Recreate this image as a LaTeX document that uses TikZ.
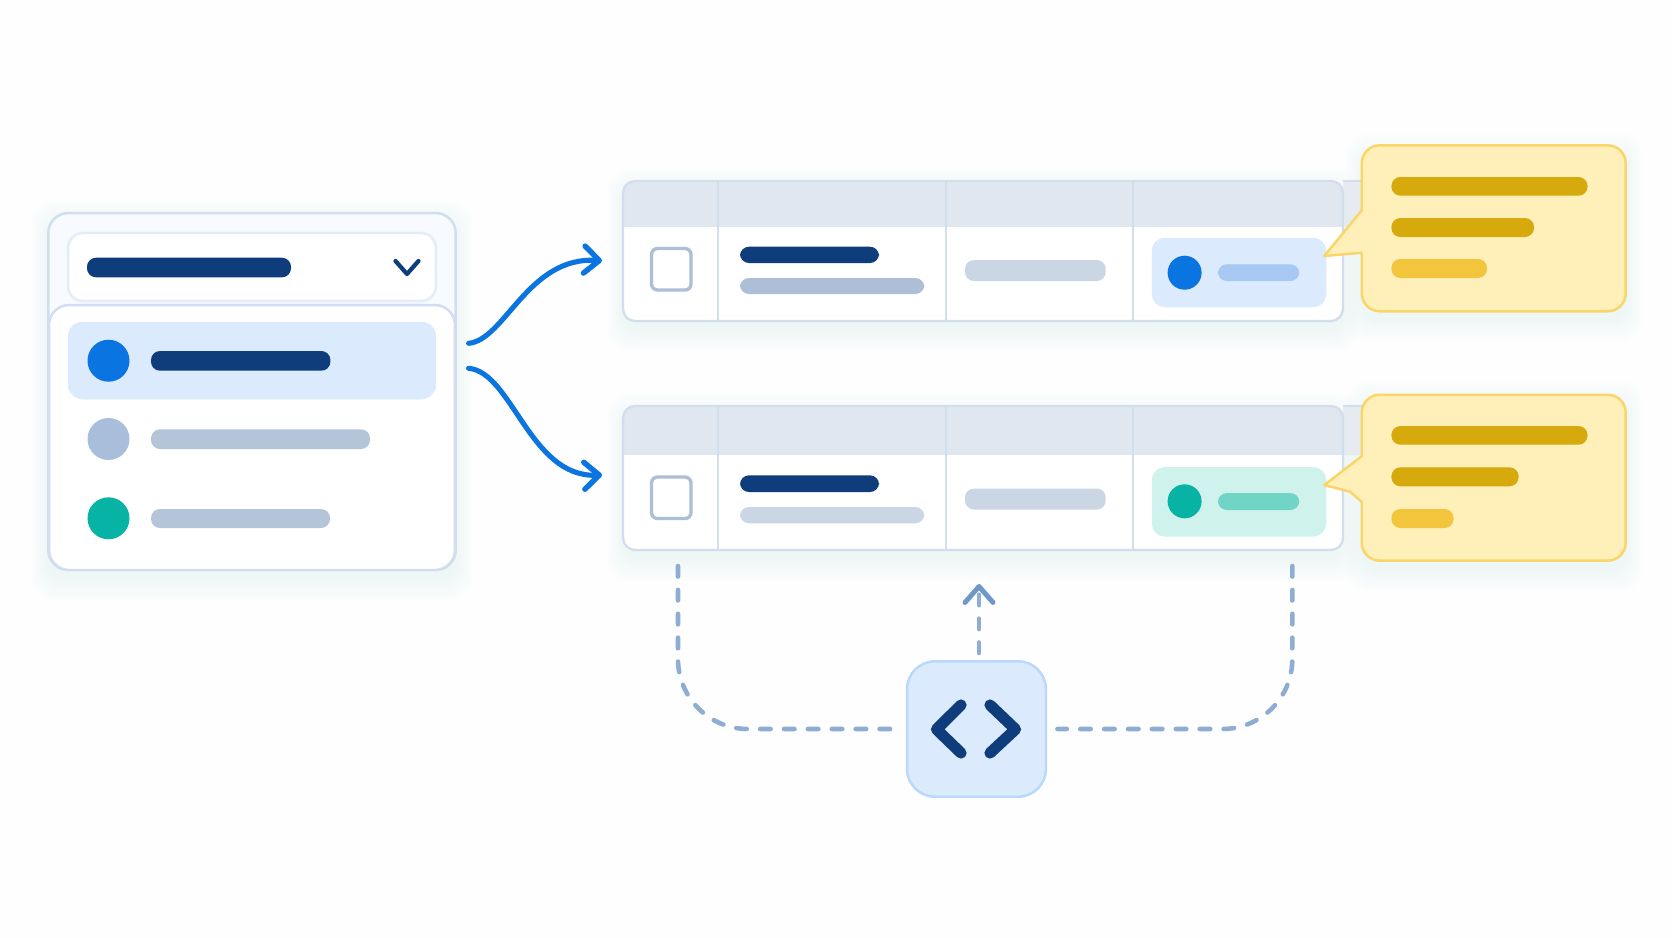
\documentclass[tikz,border=0pt]{standalone}
\usepackage{xcolor}
\usepackage{tikz}
\usetikzlibrary{positioning, arrows.meta}
\definecolor{PageWhite}{HTML}{FEFEFE}
\definecolor{ShadowBlue}{HTML}{5F7FAF}
\definecolor{NavyBar}{HTML}{0F3D7C}
\definecolor{FlowBlue}{HTML}{0A74E0}
\definecolor{SlateBar}{HTML}{B4C4D9}
\definecolor{SlateDot}{HTML}{A9BEDB}
\definecolor{SlateSoft}{HTML}{CAD6E4}
\definecolor{SlateMid}{HTML}{ADBFD7}
\definecolor{TealDot}{HTML}{06B3A4}
\definecolor{TealPill}{HTML}{CFF3EC}
\definecolor{TealBar}{HTML}{70D5C7}
\definecolor{RowBlue}{HTML}{DBEBFD}
\definecolor{PillBar}{HTML}{A6C8F2}
\definecolor{CardLine}{HTML}{D0DEF0}
\definecolor{FieldLine}{HTML}{E3EDFA}
\definecolor{CardBack}{HTML}{F7FAFE}
\definecolor{HeadFill}{HTML}{E0E7F0}
\definecolor{HeadEdge}{HTML}{E6EBF2}
\definecolor{TableLine}{HTML}{D2DEEB}
\definecolor{NoteFill}{HTML}{FEF0B8}
\definecolor{NoteLine}{HTML}{FAD568}
\definecolor{GoldBar}{HTML}{D6A90C}
\definecolor{GoldSoft}{HTML}{F2C53D}
\definecolor{CodeLine}{HTML}{B9D8FB}
\definecolor{DashBlue}{HTML}{8FADD2}
\definecolor{DashTip}{HTML}{6E98C6}
\newcommand{\softglow}[4]{%
  \foreach \g in {2,5,...,23} {
    \fill[ShadowBlue, opacity=0.007, rounded corners=4mm] ({#1-0.7*\g},{#2+10-\g}) rectangle ({#3+0.7*\g},{#4+8+\g});
  }
}
\tikzset{
  panel/.style={rectangle, inner sep=0pt, outer sep=0pt, line width=1.4pt},
  tablecard/.style={panel, fill=white, minimum width=14.4cm, rounded corners=2.4mm},
  notecard/.style={panel, draw=NoteLine, fill=NoteFill, minimum width=5.28cm, minimum height=3.32cm, rounded corners=3.6mm},
  pillbar/.style={rounded corners=1.8mm},
  flowline/.style={draw=FlowBlue, line width=2.9pt, line cap=round, -{Straight Barb[length=3mm, width=5.4mm, line width=3.1pt, round]}},
  dashline/.style={draw=DashBlue, line width=2.6pt, line cap=round, dash pattern=on 6pt off 7.6pt},
  rowline/.style={draw=TableLine, line width=1.3pt},
  codemark/.style={draw=NavyBar, line width=6.4pt, line cap=round, line join=round}
}
\begin{document}
\begin{tikzpicture}[x=0.02cm, y=-0.02cm]
  \useasboundingbox (0,0) rectangle (1672,941);
  \fill[PageWhite] (0,0) rectangle (1672,941);
  % Shadows
  \softglow{1362}{146}{1626}{311}
  \softglow{1362}{394}{1626}{561}
  \softglow{623}{181}{1343}{321}
  \softglow{623}{406}{1343}{550}
  \softglow{48}{213}{456}{570}
  % Menu
  \node[panel, draw=CardLine, fill=CardBack, minimum width=8.15cm, minimum height=7.14cm, rounded corners=4mm] (menuback) at (252,391.5) {};
  \node[panel, draw=FieldLine, fill=white, minimum width=7.36cm, minimum height=1.36cm, rounded corners=3mm] (menufield) at (252,267) {};
  \node[panel, draw=CardLine, fill=white, minimum width=8.12cm, minimum height=5.3cm, rounded corners=4mm] (menupanel) at (252,437.5) {};
  \node[panel, fill=RowBlue, minimum width=7.37cm, minimum height=1.55cm, rounded corners=3mm] (menurow) at (252,360.5) {};
  \fill[NavyBar, pillbar] (87,257.7) rectangle (291,277.3);
  \draw[NavyBar, line width=2.4pt, line cap=round, line join=round] (395.5,261) -- (407,274) -- (418.5,261);
  \fill[FlowBlue] (108.5,360.7) circle (21);
  \fill[SlateDot] (108.5,439) circle (21);
  \fill[TealDot] (108.5,518.3) circle (21);
  \fill[NavyBar, pillbar] (151,351) rectangle (330.4,370.7);
  \fill[SlateBar, pillbar] (151,429.3) rectangle (370,449);
  \fill[SlateBar, pillbar] (151,509) rectangle (330,528);
  % Upper table
  \node[tablecard, minimum height=2.8cm] (tablea) at (983,251) {};
  \fill[HeadEdge] (1343,181) rectangle (1366,226.7);
  \fill[HeadFill, rounded corners=2.4mm] (623,226.7) -- (623,181) -- (1343,181) -- (1343,240) -- (623,240) -- cycle;
  \fill[white] (624,226.7) rectangle (1342,250);
  \draw[rowline, rounded corners=2.4mm] (tablea.north west) rectangle (tablea.south east);
  \draw[rowline] (1343,181) -- (1366,181);
  \draw[rowline] (718,181) -- (718,321);
  \draw[rowline] (946,181) -- (946,321);
  \draw[rowline] (1133,181) -- (1133,321);
  \draw[SlateMid, line width=1.9pt, rounded corners=1.2mm] (651.5,248.5) rectangle (691,290);
  \fill[NavyBar, pillbar] (740,246.7) rectangle (879,263);
  \fill[SlateMid, pillbar] (740,278) rectangle (924.3,294);
  \fill[SlateSoft, pillbar] (965,260) rectangle (1105.7,281);
  \node[panel, fill=RowBlue, minimum width=3.49cm, minimum height=1.39cm, rounded corners=2.6mm] (pilla) at (1239,272.5) {};
  \fill[FlowBlue] (1184.6,272.7) circle (17);
  \fill[PillBar, pillbar] (1217.9,264.3) rectangle (1299.3,281);
  % Lower table
  \node[tablecard, minimum height=2.88cm] (tableb) at (983,478) {};
  \fill[HeadEdge] (1343,406) rectangle (1366,455);
  \fill[HeadFill, rounded corners=2.4mm] (623,455) -- (623,406) -- (1343,406) -- (1343,470) -- (623,470) -- cycle;
  \fill[white] (624,455) rectangle (1342,480);
  \draw[rowline, rounded corners=2.4mm] (tableb.north west) rectangle (tableb.south east);
  \draw[rowline] (1343,406) -- (1366,406);
  \draw[rowline] (718,406) -- (718,550);
  \draw[rowline] (946,406) -- (946,550);
  \draw[rowline] (1133,406) -- (1133,550);
  \draw[SlateMid, line width=1.9pt, rounded corners=1.2mm] (651.5,477) rectangle (691,518.5);
  \fill[NavyBar, pillbar] (740,475.3) rectangle (879,492);
  \fill[SlateSoft, pillbar] (740,507) rectangle (924.3,523.3);
  \fill[SlateSoft, pillbar] (965,488.5) rectangle (1105.7,509.5);
  \node[panel, fill=TealPill, minimum width=3.49cm, minimum height=1.39cm, rounded corners=2.6mm] (pillb) at (1239,501.8) {};
  \fill[TealDot] (1184.6,501.3) circle (17);
  \fill[TealBar, pillbar] (1217.9,493) rectangle (1299.3,510);
  % Notes
  \node[notecard] (notea) at (1493.7,228.3) {};
  \fill[NoteFill] (1364,210) -- (1324.3,256) -- (1364,252.7) -- cycle;
  \draw[NoteLine, line width=1.4pt, line join=round] (1362,210) -- (1324.3,256) -- (1362,252.7);
  \fill[GoldBar, pillbar] (1391.4,177) rectangle (1587.5,195.7);
  \fill[GoldBar, pillbar] (1391.4,218) rectangle (1534,237);
  \fill[GoldSoft, pillbar] (1391.4,259) rectangle (1487,278);
  \node[notecard] (noteb) at (1493.7,477.7) {};
  \fill[NoteFill] (1364,456) -- (1324.3,485) -- (1350,491.7) -- (1364,502) -- cycle;
  \draw[NoteLine, line width=1.4pt, line join=round] (1362,456) -- (1324.3,485) -- (1350,491.7) -- (1362,502);
  \fill[GoldBar, pillbar] (1391.4,426) rectangle (1587.5,444.7);
  \fill[GoldBar, pillbar] (1391.4,467.3) rectangle (1518.6,486.3);
  \fill[GoldSoft, pillbar] (1391.4,509) rectangle (1453.6,528);
  % Code box
  \node[panel, draw=CodeLine, fill=RowBlue, minimum width=2.78cm, minimum height=2.71cm, rounded corners=5.6mm] (codebox) at (976.5,729) {};
  \draw[codemark] (961,705) -- (936.5,729.3) -- (961,753);
  \draw[codemark] (990,705) -- (1015.5,729.3) -- (990,753);
  % Flows
  \coordinate (outa) at (468.6,343.3);
  \coordinate (outb) at (468.6,368.3);
  \coordinate (ina) at (602,260.7);
  \coordinate (inb) at (602,475);
  \draw[flowline] (outa) .. controls (505,340) and (528,256) .. (ina);
  \draw[flowline] (outb) .. controls (512,372) and (530,478) .. (inb);
  % Dashed links
  \coordinate (linka) at (678,566);
  \coordinate (linkb) at (1292.3,566);
  \coordinate (codetop) at (979,653);
  \coordinate (codeup) at (979,584);
  \draw[dashline, rounded corners=1.4cm, shorten >=5.6pt] (linka) |- (codebox.west);
  \draw[dashline, rounded corners=1.4cm, shorten >=6.5pt] (linkb) |- (codebox.east);
  \draw[dashline, -{Straight Barb[color=DashTip, length=3.2mm, width=5.6mm, line width=2.8pt, round]}] (codetop) -- (codeup);
\end{tikzpicture}
\end{document}
